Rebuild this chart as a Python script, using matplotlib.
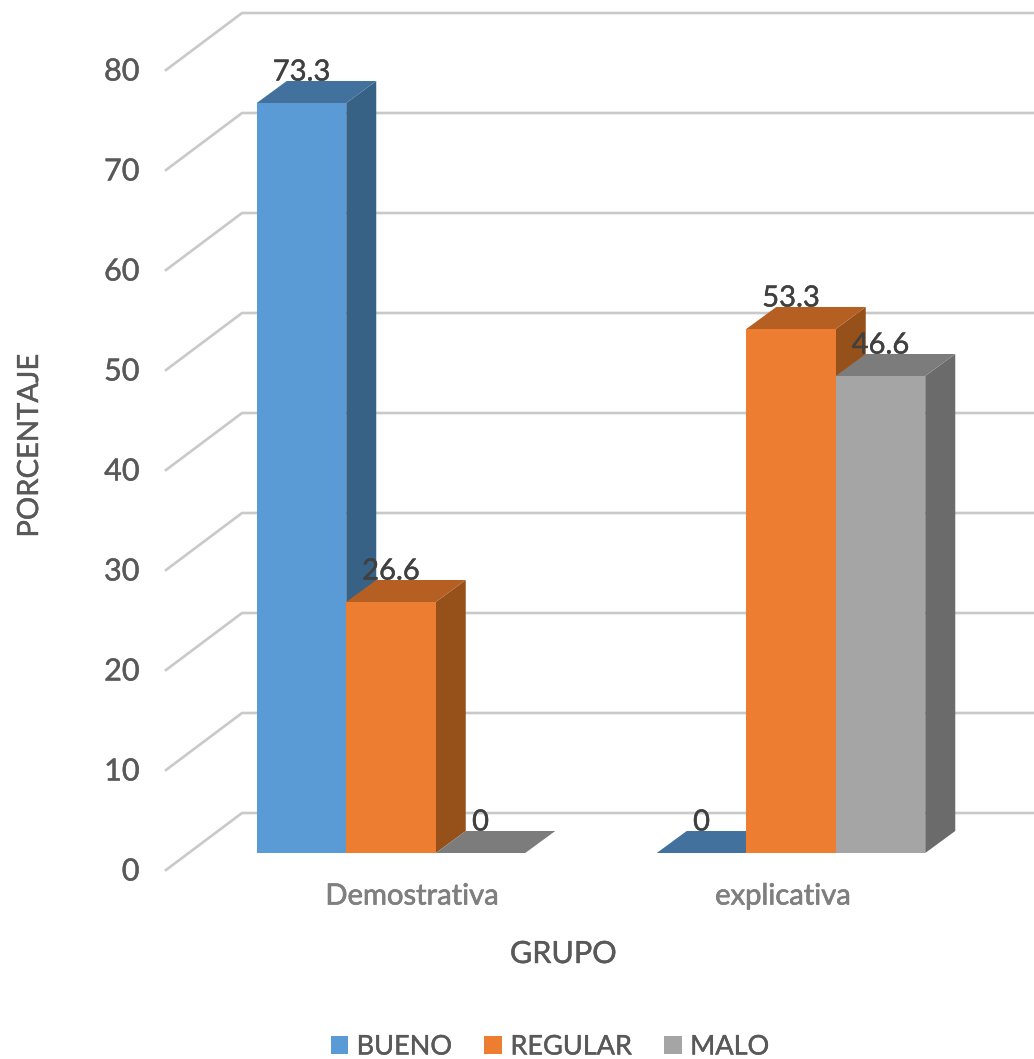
import matplotlib
matplotlib.use('Agg')
import matplotlib.pyplot as plt
import matplotlib.patheffects as pe
from matplotlib.patches import Polygon, Patch

plt.rcParams['font.family'] = ['Lato', 'DejaVu Sans']

# data
GROUPS = ['Demostrativa', 'explicativa']
SERIES = ['BUENO', 'REGULAR', 'MALO']
# heights of the drawn columns (they differ a bit from the printed labels)
BUENO = [75.0, 0]
REGULAR = [25.1, 52.4]
MALO = [0, 47.7]
# printed labels
BUENO_LABELS = ['73.3', '0']
REGULAR_LABELS = ['26.6', '53.3']
MALO_LABELS = ['0', '46.6']
TICKS = [0, 10, 20, 30, 40, 50, 60, 70, 80]

# front, top and side colour for each series
COLORS = {
    'BUENO': ('#5b9bd5', '#41719c', '#376285'),
    'REGULAR': ('#ed7d31', '#b65f23', '#96511b'),
    'MALO': ('#a5a5a5', '#7c7c7c', '#6b6b6b'),
}

W, H = 1034, 1059
fig = plt.figure(figsize=(W / 100, H / 100), dpi=100)
ax = fig.add_axes([0, 0, 1, 1])

# x: 1 group = 400 px, group 0 centred on px 391 / y: 1 unit = 10 px, zero on px 853
ax.set_xlim(-391 / 400, (W - 391) / 400)
ax.set_ylim((853 - H) / 10, 853 / 10)
ax.axis('off')

bar_w = 89.5 / 400
dx, dy = 30 / 400, 2.2  # depth of a column
wall_x = (242 - 391) / 400  # left end of the back wall
wall_dx, wall_dy = 76 / 400, 5.7
wall_up = 4.0  # back wall sits 40 px above the column base

# the source is a soft screenshot, a thin stroke gives the text the same weight
soft = [pe.withStroke(linewidth=0.3, foreground='#595959')]
soft_dark = [pe.withStroke(linewidth=0.3, foreground='#404040')]
soft_grey = [pe.withStroke(linewidth=0.5, foreground='#7f7f7f')]

# walls
for t in TICKS:
    y = t + wall_up
    ax.plot([wall_x - wall_dx, wall_x, ax.get_xlim()[1]], [y - wall_dy, y, y],
            color='#c9c9c9', lw=1.9, zorder=1, solid_joinstyle='miter')
    ax.text(-0.629, t - 1.85, str(t), ha='right', va='center', fontsize=22, color='#595959',
            path_effects=soft)

# columns, left to right so each one covers the side of the previous
values = [BUENO, REGULAR, MALO]
labels = [BUENO_LABELS, REGULAR_LABELS, MALO_LABELS]
z = 2
for g in range(len(GROUPS)):
    for s, name in enumerate(SERIES):
        v = values[s][g]
        x0 = g + (s - 1.5) * bar_w
        x1 = x0 + bar_w
        front, top, side = COLORS[name]
        if v > 0:
            ax.add_patch(Polygon([(x1, 0), (x1 + dx, dy), (x1 + dx, v + dy), (x1, v)],
                                 facecolor=side, edgecolor='none', zorder=z))
            ax.add_patch(Polygon([(x0, 0), (x1, 0), (x1, v), (x0, v)],
                                 facecolor=front, edgecolor='none', zorder=z))
        ax.add_patch(Polygon([(x0, v), (x0 + dx, v + dy), (x1 + dx, v + dy), (x1, v)],
                             facecolor=top, edgecolor='none', zorder=z))
        z += 1

# value labels on top of everything
for g in range(len(GROUPS)):
    for s in range(len(SERIES)):
        x0 = g + (s - 1) * bar_w
        ax.text(x0, values[s][g] + 3.05, labels[s][g], ha='center', va='center',
                fontsize=21, color='#404040', zorder=20, path_effects=soft_dark)

ax.text(0.0525, -4.35, GROUPS[0], ha='center', va='center', fontsize=21, color='#7f7f7f',
        path_effects=soft_grey)
ax.text(0.98, -4.35, GROUPS[1], ha='center', va='center', fontsize=21, color='#7f7f7f',
        path_effects=soft_grey)

ax.text(30 / W, 1 - 446 / H, 'PORCENTAJE', transform=ax.transAxes, rotation=90,
        ha='center', va='center', fontsize=21, color='#595959', path_effects=soft)
ax.text(563 / W, 1 - 954 / H, 'GRUPO', transform=ax.transAxes,
        ha='center', va='center', fontsize=22, color='#595959', path_effects=soft)

handles = [Patch(facecolor=COLORS[n][0], edgecolor='none') for n in SERIES]
leg = ax.legend(handles, SERIES, ncol=3, frameon=False, loc='center',
                bbox_to_anchor=(550 / W, 1 - 1047 / H), fontsize=19.5, labelcolor='#595959',
                handlelength=0.66, handleheight=0.66, handletextpad=0.3, columnspacing=1.18,
                borderpad=0, borderaxespad=0)
for t in leg.get_texts():
    t.set_path_effects(soft)

fig.savefig('out.png', dpi=100, facecolor='white')
